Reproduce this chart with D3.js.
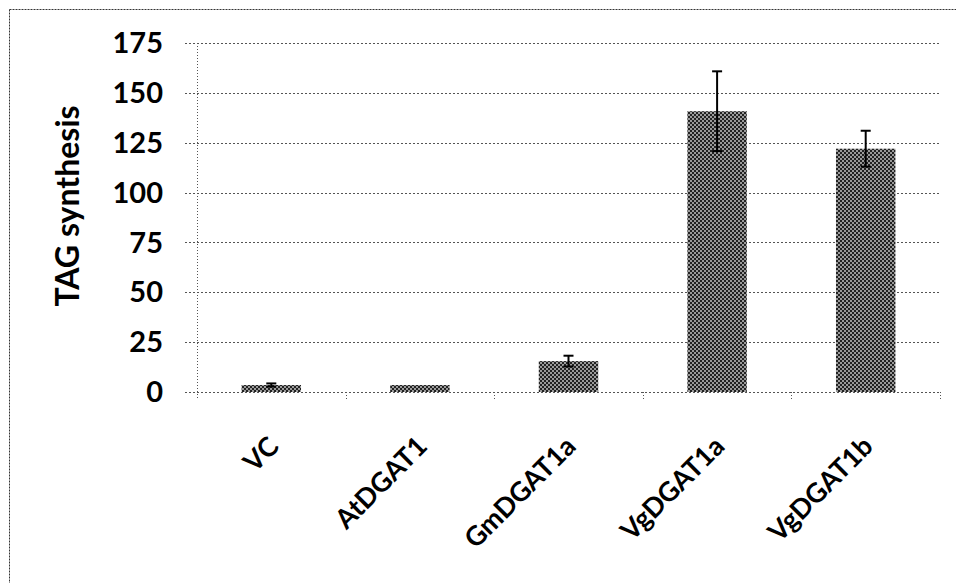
<!DOCTYPE html>
<html>
<head>
<meta charset="utf-8" />
<title>TAG synthesis</title>
<script src="https://cdn.jsdelivr.net/npm/d3@7"></script>
<style>
    body { margin: 0; background: #fff; }
    text { font-family: Lato, "Open Sans", sans-serif; font-weight: bold; fill: #000; }
</style>
</head>
<body>
<svg id="chart" width="956" height="583"></svg>
<script>
    // data
    var categories = ['VC', 'AtDGAT1', 'GmDGAT1a', 'VgDGAT1a', 'VgDGAT1b'];
    var values = [3.5, 3.5, 15.5, 140.8, 122];
    var errors = [0.8, 0, 2.7, 20, 9];
    var yTicks = [0, 25, 50, 75, 100, 125, 150, 175];

    var svg = d3.select('#chart');

    // dithered grey like the bars in the picture
    var defs = svg.append('defs');
    var pat = defs.append('pattern')
            .attr('id', 'dither')
            .attr('width', 4).attr('height', 4)
            .attr('patternUnits', 'userSpaceOnUse');
    pat.append('rect').attr('width', 4).attr('height', 4).attr('fill', '#9a9a9a');
    pat.append('rect').attr('width', 2).attr('height', 2).attr('fill', '#222');
    pat.append('rect').attr('x', 2).attr('y', 2).attr('width', 2).attr('height', 2).attr('fill', '#222');

    // outer frame (only top and left edges show)
    svg.append('line').attr('x1', 9.5).attr('x2', 956).attr('y1', 9.5).attr('y2', 9.5)
            .style('stroke', '#333').style('stroke-dasharray', '2,1');
    svg.append('line').attr('x1', 9.5).attr('x2', 9.5).attr('y1', 9.5).attr('y2', 583)
            .style('stroke', '#333').style('stroke-dasharray', '2,1');

    var plotLeft = 197, plotRight = 940, plotTop = 43, plotBottom = 392;

    var x = d3.scaleBand().domain(categories).range([plotLeft, plotRight])
            .paddingInner(0.6).paddingOuter(0.3);
    var y = d3.scaleLinear().domain([0, 175]).range([plotBottom, plotTop]);

    // grid lines
    var grid = svg.append('g').attr('class', 'grid');
    yTicks.forEach(function(t) {
        grid.append('line')
                .attr('x1', plotLeft - 12).attr('x2', plotRight)
                .attr('y1', Math.round(y(t)) + 0.5).attr('y2', Math.round(y(t)) + 0.5)
                .style('stroke', '#555').style('stroke-dasharray', '2,2');
    });

    // y axis line
    svg.append('line')
            .attr('x1', plotLeft + 0.5).attr('x2', plotLeft + 0.5)
            .attr('y1', plotTop).attr('y2', plotBottom + 8)
            .style('stroke', '#555').style('stroke-dasharray', '1,2');

    // category ticks (boundaries between bands)
    var step = x.step();
    categories.forEach(function(c, i) {
        var bx = Math.round(plotLeft + step * (i + 1)) + 0.5;
        svg.append('line')
                .attr('x1', bx).attr('x2', bx)
                .attr('y1', plotBottom).attr('y2', plotBottom + 8)
                .style('stroke', '#555').style('stroke-dasharray', '1,2');
    });

    // y tick labels
    svg.append('g').selectAll('text').data(yTicks).enter().append('text')
            .attr('x', 163)
            .attr('y', function(d) { return y(d); })
            .attr('dy', '0.35em')
            .attr('text-anchor', 'end')
            .style('font-size', '29px')
            .text(function(d) { return d; });

    // y title
    svg.append('text')
            .attr('transform', 'translate(79,206) rotate(-90)')
            .attr('text-anchor', 'middle')
            .style('font-size', '32px')
            .text('TAG synthesis');

    var rows = categories.map(function(c, i) {
        return { cat: c, val: values[i], err: errors[i] };
    });
    var cx = function(d) { return x(d.cat) + x.bandwidth() / 2; };

    // bars
    svg.append('g').selectAll('rect').data(rows).enter().append('rect')
            .attr('x', function(d) { return x(d.cat); })
            .attr('width', x.bandwidth())
            .attr('y', function(d) { return y(d.val); })
            .attr('height', function(d) { return plotBottom - y(d.val); })
            .attr('fill', 'url(#dither)');

    // error bars
    var eb = svg.append('g').selectAll('g')
            .data(rows.filter(function(d) { return d.err > 0; }))
            .enter().append('g');
    eb.append('line')
            .attr('x1', cx).attr('x2', cx)
            .attr('y1', function(d) { return y(d.val + d.err); })
            .attr('y2', function(d) { return y(d.val - d.err); })
            .style('stroke', '#000').style('stroke-width', 2);
    [1, -1].forEach(function(sgn) {
        eb.append('line')
                .attr('x1', function(d) { return cx(d) - 5; })
                .attr('x2', function(d) { return cx(d) + 5; })
                .attr('y1', function(d) { return y(d.val + sgn * d.err); })
                .attr('y2', function(d) { return y(d.val + sgn * d.err); })
                .style('stroke', '#000').style('stroke-width', 2);
    });

    // category labels, rotated
    svg.append('g').selectAll('text').data(categories).enter().append('text')
            .attr('transform', function(d) {
                return 'translate(' + (x(d) + x.bandwidth() / 2 + 9) + ',' + (plotBottom + 56) + ') rotate(-45)';
            })
            .attr('text-anchor', 'end')
            .style('font-size', '27px')
            .text(function(d) { return d; });
</script>
</body>
</html>
